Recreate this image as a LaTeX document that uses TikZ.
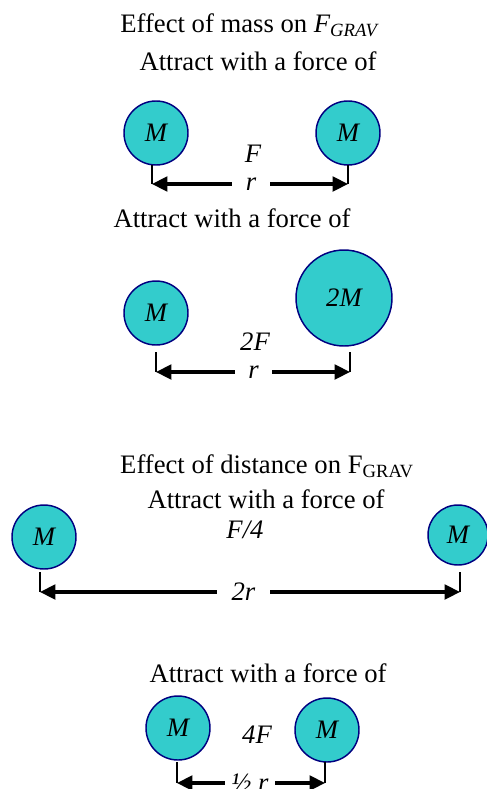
\documentclass[tikz,border=0pt]{standalone}
\usepackage{fontspec}
\setmainfont{Liberation Serif}
\usetikzlibrary{arrows.meta}
\definecolor{ballfill}{HTML}{33CCCC}
\definecolor{ballline}{HTML}{000080}
\newcommand{\gravfont}{\fontsize{20}{24}\selectfont}

\begin{document}
\begin{tikzpicture}[x=0.75pt,y=-0.75pt,>={Triangle[length=11.5pt,width=11pt]},
  ball/.style={circle,draw=ballline,fill=ballfill,line width=1.1pt,
    minimum size=48pt,inner sep=0pt,font=\gravfont\itshape},
  txt/.style={anchor=base,inner sep=0pt,font=\gravfont},
  lbl/.style={inner ysep=0pt,inner xsep=10pt,font=\gravfont\itshape},
  tick/.style={line width=1.5pt},
  span/.style={line width=2.3pt,->}]
  % page size
  \useasboundingbox (0,0) rectangle (486,789);

  % effect of mass, first pair
  \node[txt] (head1) at (249,32) {Effect of mass on \textit{F\textsubscript{GRAV}}};
  \node[txt] (say1) at (258,70) {Attract with a force of};
  \node[ball] (m1l) at (156,133) {M};
  \node[ball] (m1r) at (348,133) {M};
  \node[txt,font=\gravfont\itshape] (f1) at (253,162) {F};
  \coordinate (k1l) at (152,165); \coordinate (a1l) at (152,184);
  \coordinate (k1r) at (348,165); \coordinate (a1r) at (348,184);
  \node[lbl,inner xsep=10.5pt] (r1) at (251,184) {r};
  \draw[tick] (k1l) -- (a1l);
  \draw[tick] (k1r) -- (a1r);
  \draw[span] (r1) -- (a1l);
  \draw[span] (r1) -- (a1r);

  % effect of mass, second pair
  \node[txt] (say2) at (232,227) {Attract with a force of};
  \node[ball] (m2l) at (156,313) {M};
  \node[ball,minimum size=72pt] (m2r) at (344,298) {2M};
  \node[txt,font=\gravfont\itshape] (f2) at (255,350) {2F};
  \coordinate (k2l) at (156,352); \coordinate (a2l) at (156,372);
  \coordinate (k2r) at (350,352); \coordinate (a2r) at (350,372);
  \node[lbl] (r2) at (253.5,372) {r};
  \draw[tick] (k2l) -- (a2l);
  \draw[tick] (k2r) -- (a2r);
  \draw[span] (r2) -- (a2l);
  \draw[span] (r2) -- (a2r);

  % effect of distance, far apart
  \node[txt] (head3) at (267,473) {Effect of distance on F\textsubscript{GRAV}};
  \node[txt] (say3) at (266,508) {Attract with a force of};
  \node[txt,font=\gravfont\itshape] (f3) at (245,538) {F/4};
  \node[ball] (m3l) at (44,537) {M};
  \node[ball,minimum size=45pt] (m3r) at (458,535) {M};
  \coordinate (k3l) at (40,572); \coordinate (a3l) at (40,592);
  \coordinate (k3r) at (460,572); \coordinate (a3r) at (460,592);
  \node[lbl,inner xsep=11pt] (r3) at (243.5,592) {2r};
  \draw[tick] (k3l) -- (a3l);
  \draw[tick] (k3r) -- (a3r);
  \draw[span] (r3) -- (a3l);
  \draw[span] (r3) -- (a3r);

  % effect of distance, close together
  \node[txt] (say4) at (268,682) {Attract with a force of};
  \node[ball] (m4l) at (178,728) {M};
  \node[ball] (m4r) at (327,730) {M};
  \node[txt,font=\gravfont\itshape] (f4) at (257,743) {4F};
  \coordinate (k4l) at (177,762); \coordinate (a4l) at (177,783);
  \coordinate (k4r) at (325,762); \coordinate (a4r) at (325,783);
  \node[lbl,inner xsep=5pt] (r4) at (250,783) {½ r};
  \draw[tick] (k4l) -- (a4l);
  \draw[tick] (k4r) -- (a4r);
  \draw[span] (r4) -- (a4l);
  \draw[span] (r4) -- (a4r);
\end{tikzpicture}
\end{document}
